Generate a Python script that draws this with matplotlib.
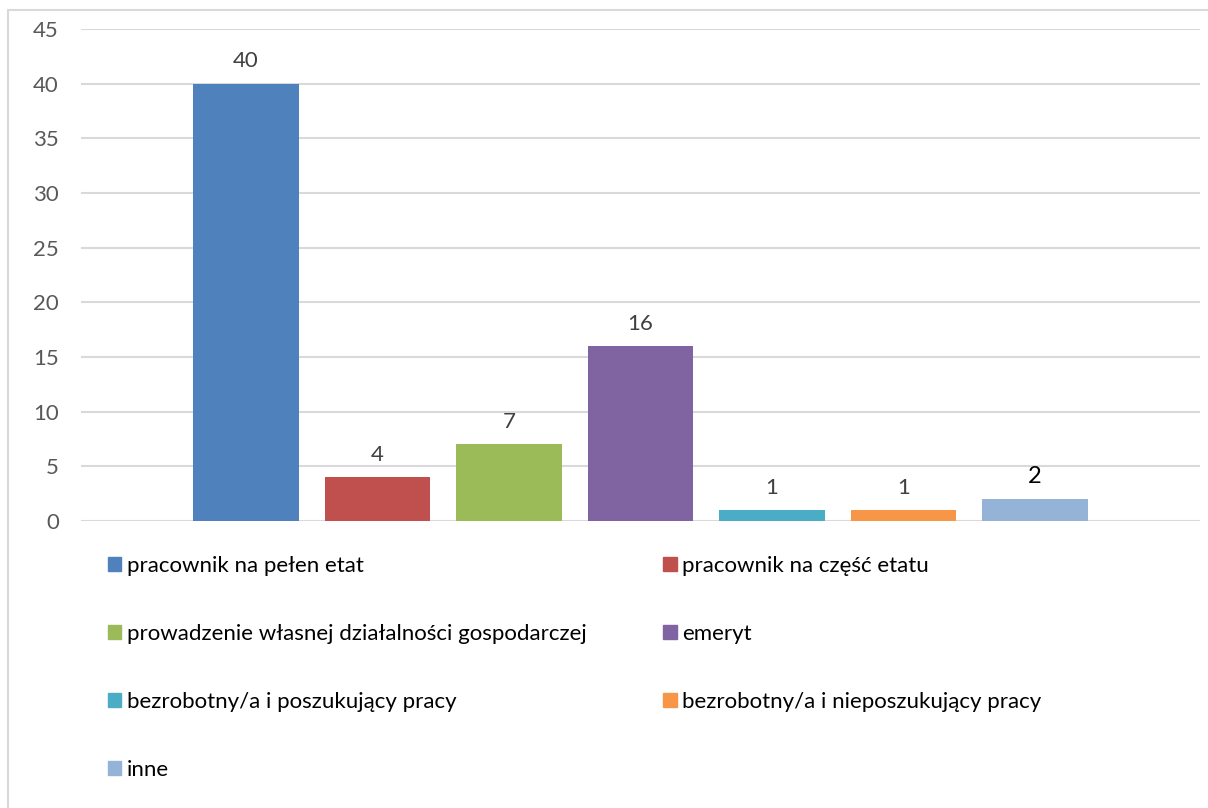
import matplotlib.pyplot as plt
from matplotlib.patches import Rectangle, Patch

# Data
categories = ["pracownik na pełen etat", "pracownik na część etatu",
              "prowadzenie własnej działalności gospodarczej", "emeryt",
              "bezrobotny/a i poszukujący pracy", "bezrobotny/a i nieposzukujący pracy",
              "inne"]
values = [40, 4, 7, 16, 1, 1, 2]
colors = ["#4F81BD", "#C0504D", "#9BBB59", "#8064A2", "#4BACC6", "#F79646", "#95B3D7"]
yticks = [0, 5, 10, 15, 20, 25, 30, 35, 40, 45]

plt.rcParams['font.family'] = ['Lato', 'DejaVu Sans']

fig = plt.figure(figsize=(12.08, 8.08), dpi=100)
ax = fig.add_axes([81 / 1208, 1 - 521 / 808, (1200 - 81) / 1208, (521 - 29) / 808])

# outer chart border (cut off at right and bottom)
fig.patches.append(Rectangle((8 / 1208, -0.1), 1.2, 1.1 - 10 / 808, transform=fig.transFigure,
                             fill=False, edgecolor="#D9D9D9", linewidth=1.5))

xpos = [i - 3 for i in range(len(values))]
bars = ax.bar(xpos, values, width=0.8, color=colors, zorder=3)

for i, (x, v) in enumerate(zip(xpos, values)):
    if categories[i] == "inne":
        ax.annotate(str(v), (x, v), xytext=(0, 9), textcoords="offset points",
                    ha="center", va="bottom", fontsize=17, color="black")
    else:
        ax.annotate(str(v), (x, v), xytext=(0, 9), textcoords="offset points",
                    ha="center", va="bottom", fontsize=16, color="#404040")

ax.set_xlim(-4.255, 4.255)
ax.set_ylim(0, 45)
ax.set_yticks(yticks)
ax.set_xticks([])
ax.yaxis.grid(True, color="#D9D9D9", linewidth=1.5, zorder=0)
ax.tick_params(axis="y", length=0, pad=16, labelsize=16, labelcolor="#595959")
for s in ax.spines.values():
    s.set_visible(False)

# legend, two columns filled row by row
order = [0, 2, 4, 6, 1, 3, 5]
handles = [Patch(color=colors[i]) for i in order]
labels = [categories[i] for i in order]
fig.legend(handles, labels, ncol=2, loc="upper left", bbox_to_anchor=(88 / 1208, 1 - 536 / 808),
           frameon=False, fontsize=16, handlelength=0.6, handleheight=0.6, handletextpad=0.25,
           labelspacing=2.16, columnspacing=3.45)

fig.savefig("out.png", dpi=100)
